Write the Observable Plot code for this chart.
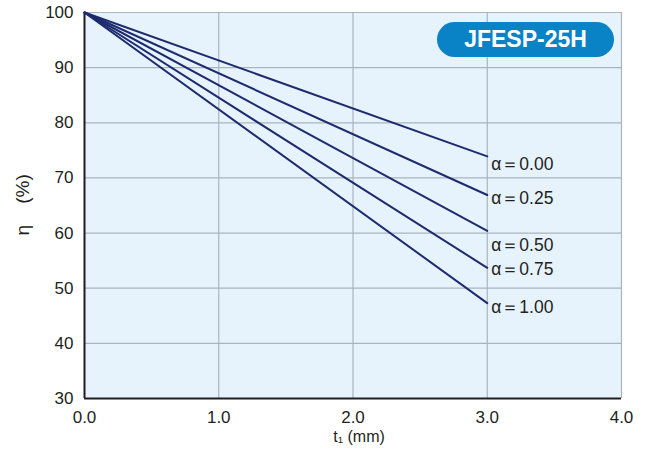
<!DOCTYPE html>
<html>
<head>
<meta charset="utf-8">
<script src="https://cdn.jsdelivr.net/npm/d3@7"></script>
<script src="https://cdn.jsdelivr.net/npm/@observablehq/plot@0.6"></script>
<style>
  body { margin: 0; background: #fff; }
  #wrap { position: relative; width: 646px; height: 452px; }
  #badge {
    position: absolute; left: 437px; top: 22px; width: 177px; height: 35px;
    border-radius: 17.5px; background: #0a82c6; color: #fff;
    font: bold 23px "Liberation Sans", Arial, sans-serif;
    display: flex; align-items: center; justify-content: center;
  }
</style>
</head>
<body>
<div id="wrap"></div>
<script>
const title = "JFESP-25H";
const alphas = ["0.00", "0.25", "0.50", "0.75", "1.00"];
const startT = 0;
const startEta = 100;
const endT = 3.0;
const endEta = [73.9, 66.9, 60.4, 53.7, 47.3];
const xTicks = [0, 1, 2, 3, 4];
const yTicks = [30, 40, 50, 60, 70, 80, 90, 100];
const xLabel = "t\u2081 (mm)";
const yLabel = "\u03b7\u00a0\u00a0\u00a0\u00a0(%)";

const labelDy = [8, 3, 15, 2, 4];

const lines = alphas.flatMap((a, i) => [
  {a, t: startT, eta: startEta},
  {a, t: endT, eta: endEta[i]}
]);
const ends = alphas.map((a, i) => ({a, t: endT, eta: endEta[i], dy: labelDy[i], label: "\u03b1\uff1d" + a}));

const font = '"Liberation Sans", Arial, sans-serif';
const navy = "#1e2a6e";

const chart = Plot.plot({
  width: 646, height: 452,
  marginLeft: 84, marginRight: 25, marginTop: 12, marginBottom: 54,
  style: {fontFamily: font, fontSize: "17px", color: "#231f20", background: "transparent"},
  x: {domain: [0, 4], label: null},
  y: {domain: [30, 100], label: null},
  marks: [
    Plot.frame({fill: "#e6f3fc", stroke: null}),
    Plot.gridX(xTicks, {stroke: "#aab4bc", strokeOpacity: 1, strokeWidth: 1.2}),
    Plot.gridY(yTicks, {stroke: "#aab4bc", strokeOpacity: 1, strokeWidth: 1.2}),
    Plot.ruleX([0], {stroke: "#231f20", strokeWidth: 2}),
    Plot.ruleY([30], {stroke: "#231f20", strokeWidth: 2}),
    Plot.line(lines, {x: "t", y: "eta", z: "a", stroke: navy, strokeWidth: 2}),
    ...ends.map(d => Plot.text([d], {x: "t", y: "eta", text: "label", dx: 4, dy: d.dy, textAnchor: "start", fontSize: 17.5, fill: "#231f20"})),
    Plot.axisX(xTicks, {tickFormat: d3.format(".1f"), tickSize: 0, tickPadding: 12, label: null, fontSize: 17}),
    Plot.axisY(yTicks, {tickSize: 0, tickPadding: 11, label: null, fontSize: 17}),
    Plot.text([xLabel], {frameAnchor: "bottom", dx: 6, dy: 43, fontSize: 16, fill: "#231f20"}),
    Plot.text([yLabel], {frameAnchor: "left", dx: -62, dy: 30, rotate: -90, fontSize: 19, fill: "#231f20"})
  ]
});
const wrap = document.getElementById("wrap");
wrap.appendChild(chart);
const badge = document.createElement("div");
badge.id = "badge";
badge.textContent = title;
wrap.appendChild(badge);
</script>
</body>
</html>
